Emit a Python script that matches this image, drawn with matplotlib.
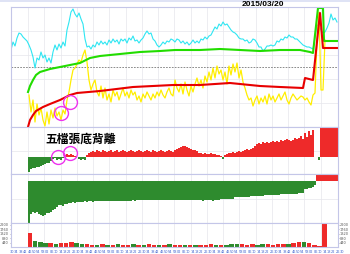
import numpy as np
import matplotlib
matplotlib.use("Agg")
import matplotlib.pyplot as plt
from matplotlib.patches import Rectangle

# ===============================
# DATA
# ===============================
# cyan line, one point every 2 min from t=-17
cyan = [77, 85, 81, 89, 94, 93, 90, 88, 86, 82,
        77, 70, 59, 69, 67, 75, 69, 72, 65, 69,
        64, 75, 82, 77, 83, 79, 85, 81, 97, 105,
        115, 118, 113, 110, 114, 108, 103, 88, 80, 81,
        78, 82, 80, 85, 82, 86, 83, 85, 82, 87,
        84, 88, 85, 87, 83, 88, 86, 88, 84, 89,
        87, 91, 86, 87, 84, 87, 89, 93, 96, 93,
        94, 88, 86, 82, 80, 82, 85, 83, 86, 85,
        88, 87, 85, 88, 87, 84, 86, 83, 85, 82,
        84, 87, 84, 86, 84, 88, 87, 90, 88, 91,
        92, 96, 100, 98, 103, 101, 105, 102, 103, 100,
        97, 95, 94, 92, 89, 88, 88, 86, 87, 84,
        85, 88, 87, 84, 80, 80, 76, 78, 81, 81,
        82, 81, 82, 86, 85, 88, 87, 90, 89, 92,
        90, 90, 88, 88, 86, 84, 82, 81, 80, 80,
        79, 78, 90, 102, 101, 97, 94, 95, 99, 104,
        113, 107, 109, 105]

# yellow line, every 2 min from t=1
yellow = [32, 15, 27, 5, 23, 12, 19, 7, 1, 15,
          3, 17, 9, 19, 11, 15, 7, 17, 13, 27,
          35, 47, 57, 59, 63, 67, 65, 72, 77, 65,
          47, 37, 43, 47, 35, 31, 41, 29, 39, 27,
          33, 25, 37, 31, 35, 27, 33, 39, 31, 35,
          29, 37, 32, 35, 27, 31, 25, 33, 29, 35,
          31, 27, 33, 29, 35, 31, 37, 32, 29, 35,
          39, 33, 31, 47, 39, 35, 43, 33, 45, 37,
          31, 41, 35, 43, 49, 41, 47, 39, 51, 45,
          55, 47, 59, 49, 61, 53, 57, 47, 55, 43,
          61, 52, 63, 55, 64, 49, 57, 45, 39, 32,
          27, 29, 21, 27, 31, 23, 29, 25, 31, 23,
          33, 27, 31, 25, 29, 33, 27, 31, 35, 27,
          23, 29, 33, 30, 27, 29, 31, 30, 27, 29,
          25, 22, 32, 34, 87, 115, 37, 37, 87]

green_t = [0, 2, 5, 8, 12, 22, 32, 42, 52, 62, 72, 92, 112, 132, 147,
           172, 192, 212, 232, 252, 272, 282, 285, 290, 295, 296, 309]
green_v = [35, 41, 47, 52, 55, 58, 60, 62, 64, 69, 71, 73, 75, 76, 77,
           77, 78, 77, 76, 77, 77, 75, 74, 119, 119, 86, 86]

red_t = [0, 2, 5, 8, 15, 22, 32, 42, 49, 72, 105, 145, 172, 202, 212,
         232, 252, 275, 277, 285, 292, 295, 309]
red_v = [0, 7, 12, 16, 20, 23, 27, 32, 34, 36, 40, 42, 42, 44, 43,
         41, 40, 39, 49, 47, 114, 79, 79]

# oscillator bars (panel 2), every 2 min from t=1
osc = [-15, -12, -11, -11, -10, -10, -9, -8, -7, -6,
       -6, -4, -2, -1, -3, -2, -3, -1, 2, 3,
       2, 3, 2, 1, 0, -2, -3, -2, -3, 2,
       4, 5, 6, 5, 7, 6, 5, 7, 6, 5,
       6, 7, 5, 6, 7, 5, 6, 7, 6, 5,
       6, 7, 6, 5, 6, 7, 6, 5, 6, 7,
       6, 5, 7, 6, 5, 6, 7, 6, 5, 6,
       7, 6, 5, 7, 8, 9, 10, 11, 11, 10,
       9, 8, 7, 7, 6, 4, 4, 3, 4, 3,
       3, 4, 3, 3, 2, 2, 1, -2, 2, 3,
       4, 4, 5, 4, 5, 6, 5, 6, 7, 8,
       7, 8, 9, 11, 13, 14, 13, 15, 14, 15,
       14, 15, 16, 15, 16, 15, 17, 16, 17, 18,
       17, 16, 17, 19, 18, 19, 21, 18, 24, 20,
       26, 22, 27, 0, 0, -3, 30, 30, 30, 30,
       30, 30, 30, 30, 30]

# accumulated bars (panel 3)
acc = [-41, -32, -30, -31, -30, -32, -33, -34, -33, -31,
       -31, -30, -28, -27, -25, -23, -23, -24, -22, -22,
       -21, -21, -20, -21, -20, -20, -20, -20, -19, -20,
       -19, -19, -20, -19, -19, -19, -19, -19, -19, -19,
       -19, -19, -19, -19, -19, -19, -19, -19, -19, -19,
       -19, -19, -18, -19, -18, -18, -18, -18, -18, -18,
       -18, -18, -18, -18, -18, -18, -18, -18, -18, -18,
       -18, -18, -18, -18, -18, -18, -18, -18, -18, -18,
       -18, -18, -18, -18, -18, -18, -18, -19, -18, -18,
       -18, -18, -19, -18, -18, -18, -17, -17, -17, -17,
       -17, -17, -17, -16, -16, -16, -16, -16, -16, -16,
       -16, -15, -15, -15, -15, -15, -15, -15, -14, -14,
       -14, -14, -14, -14, -14, -14, -13, -13, -13, -13,
       -13, -13, -13, -13, -13, -12, -12, -12, -8, -8,
       -7, -7, -6, -4, 6, 6, 6, 6, 6, 6,
       6, 6, 6, 6, 6]

# volume, 5-min bars
vol = [1400, 600, 500, 400, 400, 300, 400, 400, 500, 400,
       300, 300, 200, 200, 300, 200, 200, 300, 200, 200,
       300, 200, 200, 300, 200, 200, 200, 300, 200, 200,
       200, 200, 200, 200, 200, 300, 200, 200, 200, 300,
       300, 300, 200, 300, 200, 300, 300, 200, 300, 300,
       300, 400, 500, 500, 400, 200, 100, 2400]
vol_up = [1, 0, 0, 0, 1, 0, 1, 1, 1, 0,
          0, 1, 1, 0, 1, 0, 1, 0, 1, 1,
          0, 1, 0, 1, 1, 0, 1, 0, 1, 1,
          0, 1, 0, 1, 1, 1, 0, 1, 0, 0,
          0, 1, 1, 1, 0, 0, 1, 1, 1, 1,
          0, 1, 1, 0, 1, 1, 1, 1]
vol_ticks = [440, 880, 1320, 1760, 2200]

time_labels = ("30 34 38 42 46 50 54 58 02 06 10 14 18 22 26 "
               "30 34 38 42 46 50 54 58 02 06 10 14 18 22 26 "
               "30 34 38 42 46 50 54 58 02 06 10 14 18 22 26 "
               "30 34 38 42 46 50 54 58 02 06 10 14 18 22 26 "
               "30 34 38 42 46 50 54 58 02 06 10 14 18 22 26 30").split()

circle_p1 = [(33, 14), (42, 25)]
circle_p2 = [(30, 0), (42, 4)]

# ===============================
# STYLE
# ===============================
C_CYAN = "#2ee6f2"
C_GREEN = "#22dd00"
C_RED = "#e80000"
C_YEL = "#ffee00"
BAR_R = "#ee2a2a"
BAR_G = "#2e8b2e"
EDGE = "#c4c6e8"
GRID = "#e6e6ec"

W, H = 350, 254
XMIN, XMAX = -17, 310


def box(y_top, y_bot):
    return [11 / W, 1 - y_bot / H, 327 / W, (y_bot - y_top) / H]


def prep(ax):
    ax.set_xlim(XMIN, XMAX)
    for s in ax.spines.values():
        s.set_color(EDGE)
        s.set_linewidth(0.8)
    ax.set_xticks(np.arange(0, 305, 16.25), minor=True)
    ax.set_xticks([])
    ax.grid(True, which="minor", axis="x", color=GRID, lw=0.5)
    ax.grid(True, which="major", axis="y", color=GRID, lw=0.5)
    ax.tick_params(which="both", length=0, labelleft=False, labelbottom=False)
    ax.set_axisbelow(True)


fig = plt.figure(figsize=(W / 100, H / 100), dpi=100)
fig.patch.set_facecolor("white")
fig.patches.append(Rectangle((0, 1 - 2 / H), 1, 2 / H, transform=fig.transFigure,
                             color="#dfe3f5", lw=0))

# ===============================
# PANEL 1 - lines
# ===============================
ax1 = fig.add_axes(box(7, 127))
prep(ax1)
ax1.set_ylim(0, 120)
ax1.set_yticks([24, 48, 72, 96])
ax1.axhline(60, color="#777777", lw=0.6, ls=(0, (2, 1.5)))
t_cyan = XMIN + 2 * np.arange(len(cyan))
t_yel = 1 + 2 * np.arange(len(yellow))
ax1.plot(t_cyan, cyan, color=C_CYAN, lw=0.8)
ax1.plot(t_yel, yellow, color=C_YEL, lw=0.9)
ax1.plot(green_t, green_v, color=C_GREEN, lw=1.5)
ax1.plot(red_t, red_v, color=C_RED, lw=1.5)
for cx, cy in circle_p1:
    ax1.plot(cx, cy, "o", ms=10, mfc="none", mec="#ee33ee", mew=1.0)

fig.text(263 / W, 1 - 5 / H, "2015/03/20", ha="center", va="center",
         fontsize=6, fontweight="bold", family="Liberation Sans")

# ===============================
# PANEL 2 - oscillator
# ===============================
ax2 = fig.add_axes(box(127, 174))
prep(ax2)
ax2.set_ylim(-17, 30)
ax2.set_yticks([6])
t_bar = 1 + 2 * np.arange(len(osc))
osc_a = np.array(osc)
ax2.bar(t_bar, osc_a, width=1.6, color=np.where(osc_a >= 0, BAR_R, BAR_G), lw=0)
for cx, cy in circle_p2:
    ax2.plot(cx, cy, "o", ms=10, mfc="none", mec="#ee33ee", mew=1.0)

fig.text(81 / W, 1 - 139 / H, "五檔張底背離", ha="center", va="center",
         fontsize=8.5, fontweight="bold",
         family=["Noto Sans CJK TC", "DejaVu Sans"])

# ===============================
# PANEL 3 - accumulated
# ===============================
ax3 = fig.add_axes(box(174, 223))
prep(ax3)
ax3.set_ylim(-41, 7)
ax3.set_yticks([-17])
t_acc = 1 + 2 * np.arange(len(acc))
acc_a = np.array(acc)
ax3.bar(t_acc, acc_a, width=1.6, color=np.where(acc_a >= 0, BAR_R, BAR_G), lw=0)

# ===============================
# PANEL 4 - volume
# ===============================
ax4 = fig.add_axes(box(223, 247))
prep(ax4)
ax4.set_ylim(0, 2400)
t_vol = 2 + 5.17 * np.arange(len(vol))
ax4.bar(t_vol, vol, width=4.4,
        color=[BAR_R if u else BAR_G for u in vol_up], lw=0)
ax4.set_yticks(vol_ticks)
ax4.set_yticklabels([str(v) for v in vol_ticks])
ax4.grid(False, axis="y")
ax4.tick_params(axis="y", labelleft=True, labelright=True, labelsize=2.5,
                labelcolor="#555555", length=1, width=0.4, color="#777777",
                pad=0.5, right=True, left=True)

for i, lab in enumerate(time_labels):
    ax4.text(-16 + 4.4 * i, -0.13, lab, transform=ax4.get_xaxis_transform(),
             ha="center", va="top", fontsize=2.5, color="#3a5fcd", clip_on=False)

fig.savefig("out.png", dpi=100)
